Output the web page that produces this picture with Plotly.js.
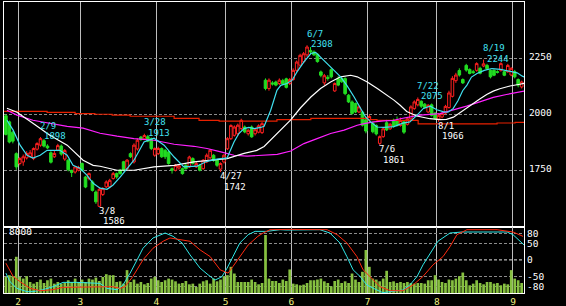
<!DOCTYPE html>
<html><head><meta charset="utf-8">
<script src="https://cdn.plot.ly/plotly-3.0.1.min.js"></script>
<style>html,body{margin:0;padding:0;background:#000;}#chart{width:566px;height:306px;}</style>
</head><body><div id="chart"></div>
<script>
// ---- daily candles (index 0 = last days of January) ----
const open  = [1993,1966,1920,1824,1780,1787,1805,1812,1802,1844,1862,1882,1858,1828,1810,1840,1858,1800,1795,1750,
1742,1750,1780,1720,1713,1698,1653,1589,1642,1676,1676,1713,1735,1750,1788,1757,1824,1787,1845,1898,
1890,1900,1891,1817,1824,1847,1839,1832,1757,1750,1760,1757,1772,1765,1802,1765,1772,1757,1787,1806,
1817,1795,1755,1787,1846,1891,1906,1913,1936,1943,1913,1943,1913,1920,1918,2152,2115,2140,2144,2137,
2150,2158,2137,2155,2196,2219,2234,2265,2285,2278,2268,2189,2140,2165,2199,2104,2159,2159,2159,2085,
2055,2048,2010,2010,1975,1975,1960,1950,1870,1900,1962,1935,1973,1970,1950,1966,1955,1980,2025,2042,
2058,2045,2010,2042,2005,1978,1988,2005,2030,2080,2150,2195,2155,2218,2200,2190,2196,2205,2215,2218,
2196,2196,2190,2196,2190,2190,2175,2190,2155,2122];
const high  = [2000,1972,1925,1830,1808,1820,1835,1840,1852,1875,1898,1890,1866,1835,1838,1868,1865,1845,1800,1752,
1768,1770,1785,1725,1740,1705,1660,1675,1675,1705,1712,1742,1740,1756,1792,1800,1830,1870,1892,1903,
1913,1908,1896,1852,1855,1852,1845,1838,1762,1778,1775,1762,1778,1815,1808,1790,1778,1800,1825,1845,
1822,1800,1785,1822,1898,1955,1950,1958,1980,1950,1935,1950,1938,1955,1965,2160,2160,2148,2150,2160,
2158,2163,2162,2205,2240,2270,2278,2308,2300,2285,2272,2195,2180,2175,2205,2142,2170,2165,2165,2090,
2062,2052,2040,2015,1985,2000,1968,1955,1905,1942,1975,1962,1980,1990,1985,1972,1988,2040,2062,2075,
2062,2050,2045,2048,2010,2005,2010,2042,2105,2170,2185,2205,2160,2225,2205,2198,2232,2212,2244,2225,
2200,2200,2196,2232,2195,2225,2210,2198,2160,2150];
const low   = [1905,1870,1870,1752,1772,1770,1798,1805,1795,1838,1855,1852,1845,1780,1805,1835,1815,1792,1745,1720,
1735,1745,1745,1670,1705,1655,1600,1586,1635,1670,1670,1708,1712,1730,1745,1750,1805,1780,1838,1880,
1884,1875,1840,1810,1818,1805,1800,1775,1735,1745,1752,1730,1752,1760,1775,1760,1745,1752,1782,1800,
1788,1765,1742,1780,1840,1885,1900,1905,1930,1915,1905,1895,1905,1915,1912,2107,2105,2128,2125,2130,
2130,2115,2130,2150,2190,2212,2228,2255,2270,2260,2230,2165,2130,2150,2160,2100,2125,2140,2085,2050,
1998,2005,2005,1945,1915,1965,1915,1905,1861,1895,1925,1930,1940,1945,1945,1912,1950,1975,2020,2035,
2028,2025,2005,1990,1975,1966,1982,2000,2025,2075,2140,2168,2135,2190,2178,2180,2190,2178,2210,2198,
2160,2170,2182,2190,2170,2185,2170,2160,2120,2115];
const close = [1910,1876,1880,1765,1802,1810,1825,1828,1847,1869,1891,1858,1850,1786,1825,1860,1822,1838,1752,1740,
1765,1762,1750,1675,1735,1660,1609,1665,1668,1698,1705,1735,1720,1735,1750,1795,1810,1862,1884,1888,
1905,1880,1847,1847,1847,1810,1810,1780,1750,1772,1770,1735,1757,1809,1780,1780,1750,1795,1817,1839,
1795,1772,1780,1817,1891,1950,1943,1951,1973,1921,1928,1899,1931,1948,1958,2115,2152,2135,2130,2152,
2135,2120,2155,2196,2233,2263,2270,2300,2278,2265,2235,2174,2172,2160,2167,2137,2130,2145,2092,2055,
2003,2010,2033,1951,1925,1990,1922,1912,1900,1935,1930,1955,1946,1950,1972,1920,1980,2033,2055,2066,
2036,2030,2040,1995,1982,1995,2003,2035,2095,2160,2175,2175,2140,2197,2182,2186,2226,2183,2225,2203,
2167,2174,2187,2226,2174,2218,2205,2167,2130,2144];
// ---- volume (thousand shares) ----
const volume = [1940,2150,2030,4370,1940,1740,2030,1330,1130,1330,1620,1210,1540,1740,1130,1330,1130,1210,1540,1330,
1740,1330,1620,1330,1740,1620,1860,1450,1940,2270,2150,2150,1330,1410,1130,2760,1330,1620,1130,1330,
1050,1210,1740,1940,1540,1330,1540,1740,1620,1410,1130,1210,1450,1050,1130,730,1130,1410,1540,1130,
1740,1410,1620,2030,2150,3160,2350,1330,1330,1330,1330,1620,1330,1050,1210,7000,1740,1450,1450,1210,
1620,1450,2840,1130,1050,930,1010,1210,1540,1540,1620,1740,1410,1210,810,1450,1620,1210,1410,1210,
2350,1620,1330,2560,5175,3160,1740,1620,1410,1740,2680,1330,1410,1210,1330,1210,1330,1210,1130,1210,
1210,1130,1540,1540,2150,1620,1330,1210,1620,1540,1740,2030,2470,1540,930,1130,1540,1210,1050,1330,
1330,1130,1210,930,1130,1050,2760,1740,1540,1210];
const volumeMax = 8000;
// ---- month axis ----
const monthStartIdx = [4,22,44,64,83,105,125,147];
const monthLabels = ['2','3','4','5','6','7','8','9'];
// ---- moving averages, read at sample points (candle index, price) ----
const maShortX = [0.3,2.1,4.1,6.1,7.8,9.9,11.9,15.6,17.7,19.4,21.4,23.4,25.2,27.2,29.2,30.9,33,35,37,39.9,42.8,45.7,48.6,51.4,55.2,58.1,61,63.9,64.9,65.9,67.3,68.8,70.2,71.7,73.6,74.6,76.5,78.3,79.4,81.2,82.7,84.1,86.1,88.1,89.5,90.9,92.8,94.8,96.7,98.5,100.6,102.5,103.9,105.4,107.2,109.2,112.1,114.7,116.7,118.8,120.6,122.6,124.5,126.3,127.7,129.2,130.6,132.0,133.2,134.5,136.1,138.2,140.4,142.9,145.9,147.7,149.2,149.9];
const maShortY = [1973,1929,1862,1817,1804,1817,1839,1839,1817,1772,1759,1728,1692,1670,1665,1683,1719,1759,1795,1876,1893,1862,1809,1765,1768,1790,1800,1805,1839,1876,1914,1936,1941,1936,1941,1946,2018,2107,2129,2137,2152,2189,2234,2271,2276,2256,2226,2196,2167,2129,2077,2025,1988,1966,1943,1941,1945,1960,1966,1996,2026,2036,2020,2012,2009,2025,2060,2106,2130,2166,2182,2196,2204,2200,2190,2185,2170,2165];
const maMidX = [0.3,3.2,7.8,12.7,17.7,22.3,25.2,27.2,32.1,37,42.8,48.6,54.3,60.1,63.9,68.8,72.5,74.6,76.5,79.4,82.3,85.2,88.1,90.9,93.8,96.7,99.6,101.5,104.4,107.3,110.2,112.1,113.9,115.8,118.7,122.5,125.4,127.3,129.3,131.2,133.1,135,136.9,138.9,140.8,142.7,145.6,148.5,149.9];
const maMidY = [2027,2009,1960,1906,1862,1795,1772,1768,1750,1750,1765,1772,1787,1798,1802,1825,1839,1856,1885,1930,1975,2030,2077,2115,2144,2167,2174,2167,2144,2115,2085,2063,2040,2012,1992,1980,1976,1977,1987,2008,2028,2048,2068,2088,2103,2114,2126,2134,2138];
const maLongX = [0.3,3.2,7.8,12.7,17.7,22.3,27.2,32.1,37,42.8,48.6,54.3,58.1,62.1,65.9,69.7,74.6,78.4,82.3,86.1,89.9,93.8,97.7,101.5,103.5,106.3,109.2,112.1,113.9,119.6,125.4,129.2,133.1,136.9,140.8,144.6,148.5,149.9];
const maLongY = [2018,1996,1973,1960,1946,1938,1915,1902,1891,1884,1866,1857,1847,1832,1817,1813,1816,1821,1836,1869,1891,1914,1929,1951,1958,1966,1970,1973,1980,1996,2003,2018,2036,2055,2075,2088,2100,2104];
const ma200X = [-0.5,11.9,20,25.7,30.7,35.9,48.6,55.8,61.6,78.3,88.1,104.4,107.2,119.1,141.9,147.1,149.7];
const ma200Y = [2013,2008,2003,2000,1996,1991,1982,1973,1969,1976,1982,1976,1973,1957,1961,1964,1964];
// ---- oscillator (%K cyan, %D red) ----
const oscKX = [0,1.2,3.2,6.1,7.8,10.7,13.6,16.5,20.5,27.2,29.2,32.1,33.8,35.9,37.9,39.6,42.5,46,48.3,50.9,53.2,56.1,58.4,60.4,62.4,63.9,65.6,67.6,70,72,75.4,79.2,81.2,90.7,93.6,96.5,98.5,100.3,102.3,104.3,107.2,108.9,111.8,114.7,116.7,118.8,120.5,122.5,124.8,128.3,131.8,137,144.8,146.5,148,149.7];
const oscKY = [-40,-66,-86,-96,-96,-90,-81,-68,-68,-71,-86,-90,-76,-40,0,35,66,81,71,51,15,-25,-45,-61,-51,-25,10,51,76,86,86,91,90,91,81,51,10,-30,-50,-76,-91,-99,-95,-91,-76,-50,-15,20,56,81,84,84,84,76,61,45];
const oscDX = [0,2.1,4.1,7,9.9,13.6,16.5,27.2,30.9,33,34.4,36.7,39.6,42.5,45.4,47.4,50.3,53.2,56.1,59,61.9,64.2,65.6,67.6,70,72.8,74.3,76.3,82.1,92.8,95.7,98.5,101.4,103.2,105.2,108.1,111,114.7,117.6,120.5,123.4,126.3,128.3,130.3,133.2,141.9,146.5,149.4];
const oscDY = [-10,-50,-66,-86,-93,-90,-83,-81,-81,-86,-81,-50,0,35,56,66,61,56,30,10,-30,-40,-20,10,45,71,81,91,92,91,76,51,10,-30,-50,-81,-93,-93,-76,-50,-15,10,40,76,91,91,84,71];
// ---- marked highs / lows ----
const markIdx   = [10,27,40,62,87,108,119,125,138];
const markDate  = ['2/9','3/8','3/28','4/27','6/7','7/6','7/22','8/1','8/19'];
const markPrice = [1898,1586,1913,1742,2308,1861,2075,1966,2244];
const markKind  = ['H','L','H','L','H','L','H','L','H'];
const priceTicks = [1750,2000,2250,2500];
const oscTicks = [80,50,0,-50,-80];

const idx = open.map((_, i) => i);
const FONT = 'DejaVu Sans Mono';
const XR = [-0.55, 149.68];

const traces = [
  {type:'bar', x:idx, y:volume, xaxis:'x2', yaxis:'y2', marker:{color:'#86c040', line:{width:0}}, width:0.78, hoverinfo:'none'},
  {type:'scatter', mode:'lines', x:oscKX, y:oscKY, xaxis:'x2', yaxis:'y3', line:{color:'#30e8e8', width:1}, hoverinfo:'none'},
  {type:'scatter', mode:'lines', x:oscDX, y:oscDY, xaxis:'x2', yaxis:'y3', line:{color:'#ff2a10', width:1}, hoverinfo:'none'},
  {type:'candlestick', x:idx, open:open, high:high, low:low, close:close, xaxis:'x', yaxis:'y',
   increasing:{line:{color:'#ff2020', width:1}, fillcolor:'#000000'},
   decreasing:{line:{color:'#22dd22', width:1}, fillcolor:'#22dd22'},
   whiskerwidth:0, hoverinfo:'none'},
  {type:'scatter', mode:'lines', x:ma200X, y:ma200Y, line:{color:'#e82000', width:1.2, shape:'hv'}, hoverinfo:'none'},
  {type:'scatter', mode:'lines', x:maLongX, y:maLongY, line:{color:'#ff20ff', width:1.2}, hoverinfo:'none'},
  {type:'scatter', mode:'lines', x:maMidX, y:maMidY, line:{color:'#ffffff', width:1.2}, hoverinfo:'none'},
  {type:'scatter', mode:'lines', x:maShortX, y:maShortY, line:{color:'#40e0f0', width:1.2}, hoverinfo:'none'}
];

const annotations = [];
markIdx.forEach((i, k) => {
  const hi = markKind[k] === 'H';
  const col = hi ? '#40e0f0' : '#ffffff';
  annotations.push({x:i, y:markPrice[k], xref:'x', yref:'y', text:markDate[k], showarrow:false, borderpad:0,
    xanchor:'left', yanchor:'middle', xshift:-1.5, yshift: hi ? 11.5 : -4, font:{family:FONT, size:9, color:col}});
  annotations.push({x:i, y:markPrice[k], xref:'x', yref:'y', text:String(markPrice[k]), showarrow:false, borderpad:0,
    xanchor:'left', yanchor:'middle', xshift:2.5, yshift: hi ? 1 : -14.5, font:{family:FONT, size:9, color:col}});
});
annotations.push({x:0.0058, y:0.2113, xref:'paper', yref:'paper', text:String(volumeMax), showarrow:false,
  xanchor:'left', yanchor:'middle', font:{family:FONT, size:9.5, color:'#ffffff'}});

const monthTicks = monthStartIdx.map(v => v - 0.5);
const gridX = {tickvals:monthTicks, showgrid:true, gridcolor:'#bdbdbd', gridwidth:1, zeroline:false,
  showline:true, linecolor:'#ffffff', linewidth:1, mirror:true, ticks:'', range:XR, fixedrange:true};

const layout = {
  width:566, height:306,
  margin:{l:4, r:42, t:2, b:13, pad:0},
  paper_bgcolor:'#000000', plot_bgcolor:'#000000',
  showlegend:false, hovermode:false, dragmode:false,
  boxgap:0.25, boxgroupgap:0,
  font:{family:FONT, size:9.5, color:'#ffffff'},
  xaxis:Object.assign({}, gridX, {anchor:'y', showticklabels:false, rangeslider:{visible:false}}),
  xaxis2:Object.assign({}, gridX, {anchor:'y2', ticktext:monthLabels, showticklabels:true,
    tickfont:{family:FONT, size:9.5, color:'#f0f080'}, ticklabelstandoff:0}),
  yaxis:{domain:[0.2278,1], range:[1498,2501], side:'right', anchor:'x', tickvals:priceTicks,
    showgrid:true, gridcolor:'#8c8c8c', griddash:'3px,2px', gridwidth:1, zeroline:false,
    showline:true, linecolor:'#ffffff', linewidth:1, mirror:true, ticks:'',
    ticklabelshift:-2, ticklabelstandoff:2, tickfont:{family:FONT, size:9.5, color:'#ffffff'}, fixedrange:true},
  yaxis2:{domain:[0,0.2278], range:[0,volumeMax], anchor:'x2', showticklabels:false, showgrid:false,
    zeroline:false, showline:true, linecolor:'#ffffff', linewidth:1, mirror:true, ticks:'', fixedrange:true},
  yaxis3:{overlaying:'y2', anchor:'x2', side:'right', range:[-100,100], tickvals:oscTicks,
    ticktext:oscTicks.map(String), showgrid:true, gridcolor:'#8c8c8c', griddash:'3px,2px', zeroline:false,
    showline:false, ticks:'', ticklabelstandoff:2, tickfont:{family:FONT, size:9.5, color:'#ffffff'}, fixedrange:true},
  shapes:[{type:'line', xref:'paper', x0:0, x1:1, yref:'y3', y0:0, y1:0, layer:'below',
    line:{color:'#ffffff', width:1, dash:'3px,2px'}}],
  annotations:annotations
};

Plotly.newPlot('chart', traces, layout, {displayModeBar:false, staticPlot:true});
</script></body></html>
